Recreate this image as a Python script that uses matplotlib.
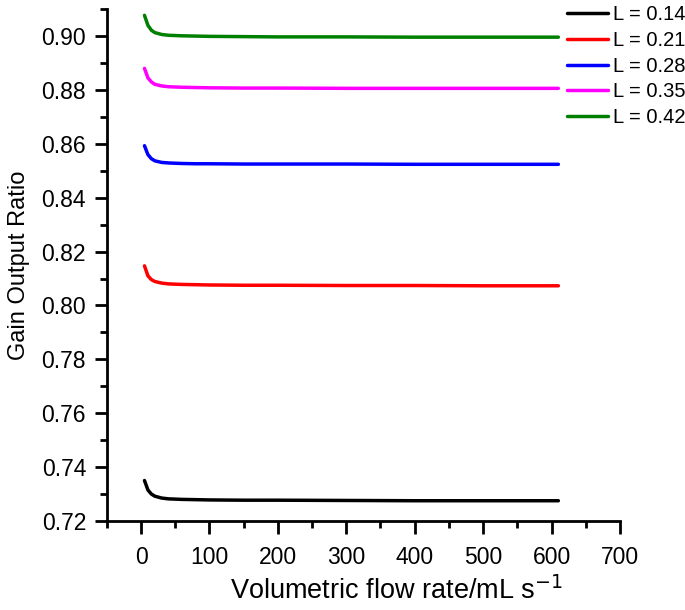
import matplotlib
matplotlib.use("Agg")
import matplotlib.pyplot as plt
from matplotlib.ticker import MultipleLocator

plt.rcParams['font.family'] = ['Liberation Sans', 'DejaVu Sans']

flow = [5, 10, 15, 20, 30, 40, 60, 80, 100, 150, 200, 300, 400, 500, 610]
labels = ["L = 0.14", "L = 0.21", "L = 0.28", "L = 0.35", "L = 0.42"]
colors = ["black", "red", "blue", "magenta", "green"]
gor_014 = [0.7350, 0.7315, 0.7300, 0.7292, 0.7285, 0.7282, 0.7280, 0.7279, 0.7278, 0.7277, 0.7277, 0.7276, 0.7275, 0.7275, 0.7275]
gor_021 = [0.8147, 0.8110, 0.8096, 0.8089, 0.8083, 0.8080, 0.8078, 0.8077, 0.8076, 0.8075, 0.8075, 0.8074, 0.8074, 0.8073, 0.8073]
gor_028 = [0.8593, 0.8560, 0.8545, 0.8537, 0.8531, 0.8529, 0.8527, 0.8526, 0.8526, 0.8525, 0.8525, 0.8525, 0.8524, 0.8524, 0.8524]
gor_035 = [0.8880, 0.8845, 0.8830, 0.8821, 0.8815, 0.8812, 0.8810, 0.8809, 0.8808, 0.8807, 0.8807, 0.8806, 0.8806, 0.8806, 0.8806]
gor_042 = [0.9077, 0.9040, 0.9022, 0.9013, 0.9006, 0.9003, 0.9001, 0.9000, 0.8999, 0.8998, 0.8997, 0.8997, 0.8996, 0.8996, 0.8996]
series = [gor_014, gor_021, gor_028, gor_035, gor_042]

fig = plt.figure(figsize=(6.85, 6.10), dpi=100)
ax = fig.add_axes([0.156, 0.146, 0.749, 0.839])

lines = []
for y, c, lab in zip(series, colors, labels):
    ln, = ax.plot(flow, y, color=c, lw=2.5, label=lab, solid_capstyle='round')
    lines.append(ln)

ax.set_xlim(-50, 700)
ax.set_ylim(0.72, 0.91)
ax.set_xticks(range(0, 701, 100))
ax.xaxis.set_minor_locator(MultipleLocator(50))
ax.set_yticks([0.72 + 0.02 * i for i in range(10)])
ax.yaxis.set_minor_locator(MultipleLocator(0.01))
ax.set_yticklabels([f"{0.72 + 0.02 * i:.2f}" for i in range(10)])

for s in ['top', 'right']:
    ax.spines[s].set_visible(False)
for s in ['left', 'bottom']:
    ax.spines[s].set_linewidth(2)

ax.tick_params(which='major', direction='out', length=9, width=2, labelsize=16.5, pad=6)
ax.tick_params(which='minor', direction='out', length=5, width=2)
ax.tick_params(axis='x', pad=9)

ax.set_xlabel("Volumetric flow rate/mL s$^{-1}$", fontsize=19.5)
ax.xaxis.set_label_coords(0.565, -0.108)
ax.set_ylabel("Gain Output Ratio", fontsize=17, labelpad=8)

fig.legend(handles=lines, loc='upper right', bbox_to_anchor=(1.018, 1.011), frameon=False,
           fontsize=14.5, handlelength=2.0, labelspacing=0.33, handletextpad=0.25,
           borderaxespad=0.2)

fig.savefig("out.png", dpi=100)
